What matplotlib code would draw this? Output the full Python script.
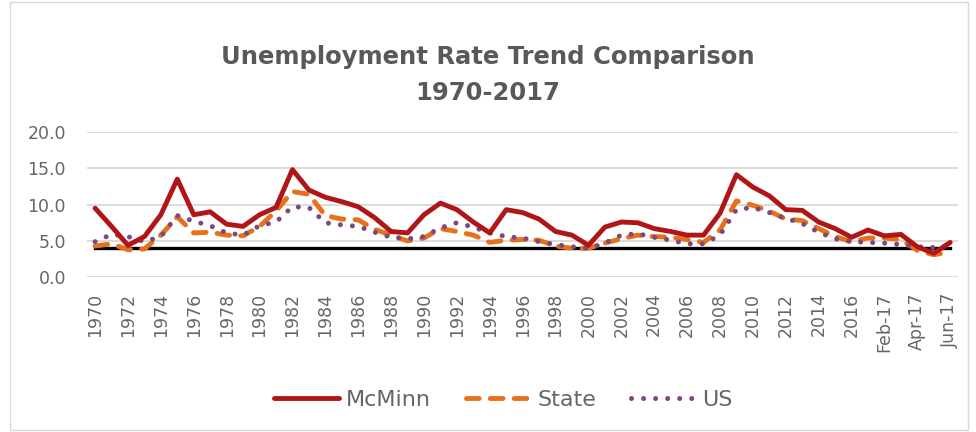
import matplotlib
matplotlib.use('Agg')
import matplotlib.pyplot as plt
from matplotlib.patches import Rectangle

plt.rcParams['font.family'] = ['DejaVu Sans']

# categories: yearly 1970-2016, then monthly Jan-17 .. Jun-17
periods = [str(y) for y in range(1970, 2017)] + ['Jan-17', 'Feb-17', 'Mar-17', 'Apr-17', 'May-17', 'Jun-17']

mcminn = [9.5, 7.0, 4.4, 5.6, 8.6, 13.5, 8.6, 9.0, 7.3, 7.0,
          8.6, 9.6, 14.8, 12.0, 11.0, 10.4, 9.7, 8.2, 6.3, 6.1,
          8.6, 10.2, 9.3, 7.6, 6.1, 9.3, 8.9, 8.0, 6.3, 5.8,
          4.4, 6.9, 7.6, 7.5, 6.7, 6.3, 5.8, 5.8, 8.8, 14.1,
          12.4, 11.2, 9.3, 9.2, 7.6, 6.7, 5.5, 6.5, 5.7, 5.9,
          4.2, 3.3, 4.8]

state = [4.3, 4.6, 3.8, 3.9, 5.8, 8.3, 6.1, 6.2, 5.8, 5.7,
         7.0, 9.1, 11.8, 11.4, 8.5, 8.0, 7.9, 6.6, 5.8, 5.0,
         5.4, 6.7, 6.3, 5.8, 4.8, 5.1, 5.2, 5.1, 4.3, 4.0,
         4.0, 4.7, 5.3, 5.8, 5.6, 5.5, 5.2, 4.8, 6.5, 10.5,
         9.9, 9.1, 8.0, 7.8, 6.7, 5.6, 4.9, 5.4, 5.4, 5.2,
         3.7, 3.1, 3.5]

us = [4.9, 5.9, 5.6, 4.9, 5.6, 8.5, 7.7, 7.1, 6.1, 5.8,
      7.1, 7.6, 9.7, 9.6, 7.5, 7.2, 7.0, 6.2, 5.5, 5.3,
      5.6, 6.8, 7.5, 6.9, 6.1, 5.6, 5.4, 4.9, 4.5, 4.2,
      4.0, 4.7, 5.8, 6.0, 5.5, 5.1, 4.6, 4.6, 5.8, 9.3,
      9.6, 8.9, 8.1, 7.4, 6.2, 5.3, 4.9, 4.8, 4.7, 4.5,
      4.2, 4.1, 4.4]

baseline = 4.0

grey = '#595959'

fig = plt.figure(figsize=(9.76, 4.32), dpi=100)
ax = fig.add_axes([0.089, 0.358, 0.893, 0.337])

x = list(range(len(periods)))
ax.plot(x, [baseline] * len(x), color='black', lw=2.4, zorder=1)
ax.plot(x, mcminn, color='#B01518', lw=3.5, solid_capstyle='round', label='McMinn', zorder=3)
ax.plot(x, state, color='#E8701A', lw=3.5, dashes=(2.6, 2.3), dash_capstyle='round', label='State', zorder=2)
ax.plot(x, us, color='#7A4A7E', lw=3.6, dashes=(0.01, 2.4), dash_capstyle='round', label='US', zorder=2)

ax.set_xlim(-0.5, len(x) - 0.5)
ax.set_ylim(0, 20)
ax.set_yticks([0, 5, 10, 15, 20])
ax.set_yticklabels(['%.1f' % v for v in [0, 5, 10, 15, 20]])
ax.set_xticks(x[::2])
ax.set_xticklabels(periods[::2], rotation=90)
ax.tick_params(axis='both', length=0, colors='#666666', labelsize=12.5)
ax.tick_params(axis='x', pad=11)
ax.tick_params(axis='y', pad=15)
ax.grid(axis='y', color='#D9D9D9', lw=1.3)
ax.set_axisbelow(True)
for s in ax.spines.values():
    s.set_visible(False)

fig.text(0.5, 1 - 64 / 432, 'Unemployment Rate Trend Comparison', ha='center', va='baseline',
         fontsize=17.5, fontweight='bold', color=grey)
fig.text(0.5, 1 - 100 / 432, '1970-2017', ha='center', va='baseline',
         fontsize=17.5, fontweight='bold', color=grey)

leg = fig.legend(loc='center', bbox_to_anchor=(0.516, 0.074), ncol=3, frameon=False,
                 fontsize=16, handlelength=2.9, columnspacing=1.6, handletextpad=0.3)
for t in leg.get_texts():
    t.set_color('#666666')

fig.patches.append(Rectangle((0.01, 0.005), 0.982, 0.99, transform=fig.transFigure,
                             fill=False, edgecolor='#D9D9D9', lw=1.0))

fig.savefig('out.png', dpi=100)
